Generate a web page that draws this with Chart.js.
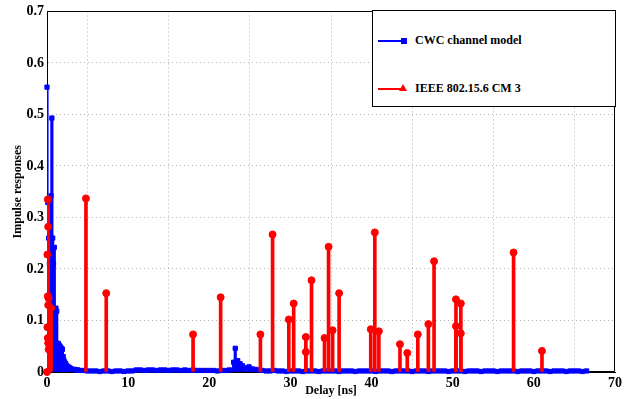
<!DOCTYPE html>
<html>
<head>
<meta charset="utf-8">
<script src="https://cdn.jsdelivr.net/npm/chart.js@4"></script>
<style>
  html, body { margin: 0; padding: 0; background: #fff; }
  #wrap { position: relative; width: 641px; height: 399px; }
  #legend {
    position: absolute; left: 372px; top: 10px; width: 242px; height: 95px;
    border: 1px solid #000; background: #fff;
    font: bold 12px 'Liberation Serif', 'Times New Roman', serif; color: #000;
  }
  .entry { position: absolute; left: 5px; height: 12px; }
  .entry .ln { position: absolute; left: 0; top: 5px; width: 25px; height: 2px; }
  .entry .txt { position: absolute; left: 37px; top: -2px; white-space: nowrap; }
  .sq { position: absolute; left: 23px; top: 3px; width: 6px; height: 6px; background: #0000ff; }
  .tri { position: absolute; left: 21px; top: 1px; width: 0; height: 0;
         border-left: 4px solid transparent; border-right: 4px solid transparent;
         border-bottom: 7px solid #ff0000; }
</style>
</head>
<body>
<div id="wrap">
  <canvas id="chart" width="641" height="399"></canvas>
  <div id="legend">
    <div class="entry" style="top:24px">
      <div class="ln" style="background:#0000ff"></div><div class="sq"></div>
      <span class="txt">CWC channel model</span>
    </div>
    <div class="entry" style="top:72px">
      <div class="ln" style="background:#ff0000"></div><div class="tri"></div>
      <span class="txt">IEEE 802.15.6 CM 3</span>
    </div>
  </div>
</div>
<script>
Chart.defaults.font.family = "'Liberation Serif', 'Times New Roman', serif";
Chart.defaults.color = '#000';

// ── Data ─────────────────────────────────────────────────────────────────────
const xTicks = [0, 10, 20, 30, 40, 50, 60, 70];
const yTicks = [0, 0.1, 0.2, 0.3, 0.4, 0.5, 0.6, 0.7];

// CWC channel model, delay [ns] / impulse response
const cwcDelay = [
  0.0, 0.1, 0.2, 0.3, 0.4, 0.5, 0.6, 0.7, 0.8, 0.9,
  1.0, 1.1, 1.2, 1.3, 1.4, 1.5, 1.6, 1.7, 1.8, 1.9,
  2.0, 2.1, 2.2, 2.3, 2.4, 2.5, 2.6, 2.7, 2.8, 2.9,
  3.0, 3.2, 3.4, 3.6, 3.8, 4.0,
  4.5, 5.0, 5.5, 6.0, 6.5, 7.0, 7.5, 8.0, 8.5, 9.0, 9.5, 10.0, 10.5,
  11.0, 11.5, 12.0, 12.5, 13.0, 13.5, 14.0, 14.5, 15.0, 15.5,
  16.0, 16.5, 17.0, 17.5, 18.0, 18.5, 19.0, 19.5, 20.0,
  20.5, 21.0, 21.5, 22.0, 22.5,
  23.0, 23.2, 23.5, 23.8, 24.1, 24.5, 24.9, 25.3, 25.7, 26.1, 26.5,
  27.0, 27.5, 28.0, 28.5, 29.0, 29.5, 30.0, 30.5, 31.0, 31.5,
  32.0, 32.5, 33.0, 33.5, 34.0, 34.5, 35.0, 35.5, 36.0, 36.5,
  37.0, 37.5, 38.0, 38.5, 39.0, 39.5, 40.0, 40.5, 41.0, 41.5,
  42.0, 42.5, 43.0, 43.5, 44.0, 44.5, 45.0, 45.5, 46.0, 46.5,
  47.0, 47.5, 48.0, 48.5, 49.0, 49.5, 50.0, 50.5, 51.0, 51.5,
  52.0, 52.5, 53.0, 53.5, 54.0, 54.5, 55.0, 55.5, 56.0, 56.5,
  57.0, 57.5, 58.0, 58.5, 59.0, 59.5, 60.0, 60.5, 61.0, 61.5,
  62.0, 62.5, 63.0, 63.5, 64.0, 64.5, 65.0, 65.5, 66.0, 66.5
];
const cwcResp = [
  0.553, 0.329, 0.26, 0.21, 0.23, 0.342, 0.493, 0.26, 0.21, 0.242,
  0.118, 0.124, 0.118, 0.056, 0.055, 0.052, 0.050, 0.047, 0.046, 0.044,
  0.030, 0.022, 0.018, 0.016, 0.013, 0.011, 0.010, 0.009, 0.008, 0.007,
  0.006, 0.005, 0.005, 0.004, 0.004, 0.003,
  0.003, 0.002, 0.002, 0.002, 0.001, 0.002, 0.002, 0.001, 0.002, 0.002, 0.001, 0.002, 0.002,
  0.004, 0.004, 0.003, 0.004, 0.004, 0.003, 0.004, 0.004, 0.003, 0.004,
  0.004, 0.003, 0.004, 0.003, 0.004, 0.003, 0.003, 0.003, 0.003,
  0.003, 0.002, 0.003, 0.003, 0.004,
  0.019, 0.046, 0.022, 0.016, 0.012, 0.008, 0.010, 0.006, 0.005, 0.004, 0.003,
  0.002, 0.002, 0.003, 0.002, 0.002, 0.001, 0.002, 0.002, 0.002, 0.001,
  0.002, 0.002, 0.002, 0.001, 0.002, 0.002, 0.002, 0.002, 0.001, 0.002,
  0.002, 0.002, 0.001, 0.002, 0.002, 0.002, 0.002, 0.001, 0.002, 0.002,
  0.002, 0.001, 0.002, 0.002, 0.002, 0.002, 0.001, 0.002, 0.002, 0.002,
  0.001, 0.002, 0.002, 0.002, 0.002, 0.001, 0.002, 0.002, 0.002, 0.001,
  0.002, 0.002, 0.002, 0.001, 0.002, 0.002, 0.002, 0.001, 0.002, 0.002,
  0.002, 0.002, 0.001, 0.002, 0.002, 0.002, 0.001, 0.002, 0.002, 0.002,
  0.001, 0.002, 0.002, 0.002, 0.001, 0.002, 0.002, 0.002, 0.001, 0.002
];

// IEEE 802.15.6 CM 3, delay [ns] / impulse response
const ieeeDelay = [
  0.0, 0.1, 0.15, 0.05, 0.1, 0.2, 0.15, 0.5, 0.05, 0.1, 0.15, 0.2,
  4.8, 7.3, 18.0, 21.4, 26.3, 27.8, 29.8, 30.4, 31.9, 31.9,
  32.6, 34.2, 34.7, 35.2, 36.0, 39.9, 40.4, 40.9, 43.5, 44.4,
  45.7, 47.0, 47.7, 50.4, 50.4, 51.0, 51.0, 57.5, 61.0
];
const ieeeResp = [
  0.0, 0.335, 0.282, 0.228, 0.147, 0.143, 0.13, 0.124, 0.087, 0.066, 0.056, 0.044,
  0.337, 0.153, 0.073, 0.145, 0.073, 0.267, 0.102, 0.133, 0.068, 0.039,
  0.178, 0.066, 0.243, 0.081, 0.153, 0.083, 0.271, 0.079, 0.054, 0.037,
  0.073, 0.093, 0.215, 0.141, 0.089, 0.133, 0.075, 0.232, 0.041
];

const toXY = (xs, ys) => xs.map((x, i) => ({ x, y: ys[i] }));
const cwcPts  = toXY(cwcDelay, cwcResp);
const ieeePts = toXY(ieeeDelay, ieeeResp);

// axes box on all four sides, like the MATLAB figure
const framePlugin = {
  id: 'frame',
  beforeDatasetsDraw(chart) {
    const { ctx, chartArea: a } = chart;
    const l = Math.round(a.left) + 0.5, r = Math.round(a.right) - 0.5;
    const t = Math.round(a.top) + 0.5, b = Math.round(a.bottom) - 0.5;
    ctx.save();
    ctx.strokeStyle = '#000';
    ctx.lineWidth = 1;
    ctx.setLineDash([]);
    ctx.beginPath();
    ctx.moveTo(l, b); ctx.lineTo(l, t); ctx.lineTo(r, t); ctx.lineTo(r, b); ctx.lineTo(l, b);
    ctx.stroke();
    ctx.restore();
  }
};

new Chart(document.getElementById('chart'), {
  type: 'scatter',
  data: {
    datasets: [
      { type: 'scatter', data: ieeePts, order: 0, clip: false,
        pointStyle: 'circle', pointRadius: 3.5, pointBackgroundColor: '#ff0000',
        pointBorderColor: '#ff0000', pointBorderWidth: 1 },
      { type: 'bar', data: ieeePts, order: 1, grouped: false,
        barThickness: 3, backgroundColor: '#ff0000' },
      { type: 'scatter', data: cwcPts, order: 2, clip: false,
        pointStyle: 'rect', pointRadius: 3, pointBackgroundColor: '#0000ff',
        pointBorderColor: '#0000ff', pointBorderWidth: 1 },
      { type: 'bar', data: cwcPts, order: 3, grouped: false,
        barThickness: 2.5, backgroundColor: '#0000ff' },
    ]
  },
  options: {
    responsive: false,
    animation: false,
    layout: { padding: { left: 0, right: 26, top: 10, bottom: 0 } },
    plugins: { legend: { display: false }, tooltip: { enabled: false } },
    scales: {
      x: {
        type: 'linear', min: 0, max: 70, offset: false,
        afterFit: s => { s.height = 27; },
        afterBuildTicks: s => { s.ticks = xTicks.map(v => ({ value: v })); },
        grid: { color: '#b4b4b4', drawTicks: false },
        border: { color: '#000', dash: [1, 3] },
        ticks: { padding: 3, font: { size: 14, weight: 'bold' } },
        title: { display: true, text: 'Delay [ns]', padding: { top: 0, bottom: 1 },
                 font: { size: 12, weight: 'bold' } }
      },
      y: {
        type: 'linear', min: 0, max: 0.7,
        afterFit: s => { s.width = 47; },
        afterBuildTicks: s => { s.ticks = yTicks.map(v => ({ value: v })); },
        grid: { color: '#b4b4b4', drawTicks: false },
        border: { color: '#000', dash: [1, 3] },
        ticks: { padding: 3, font: { size: 14, weight: 'bold' }, callback: v => String(v) },
        title: { display: true, text: 'Impulse responses', padding: { top: 11, bottom: 0 },
                 font: { size: 12, weight: 'bold' } }
      }
    }
  },
  plugins: [framePlugin]
});
</script>
</body>
</html>
